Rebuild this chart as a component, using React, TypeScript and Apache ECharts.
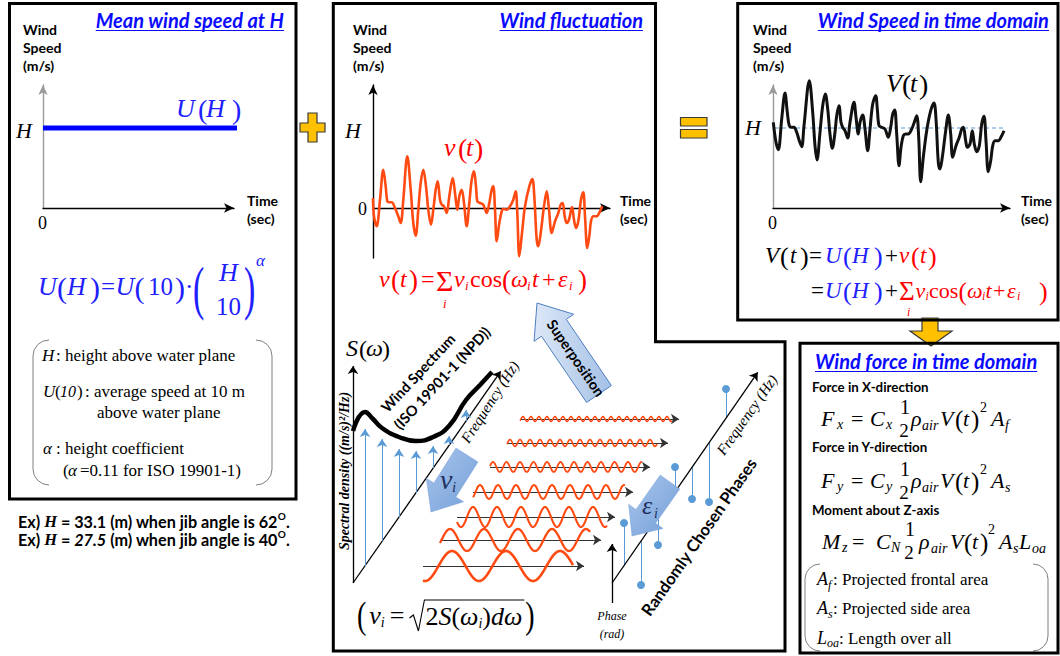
import React, { useEffect, useRef } from 'react';
import * as echarts from 'echarts';

const SERIF = '"Liberation Serif", serif';
const SANS = 'Lato, "Open Sans", sans-serif';
const BLUE = '#0a0aff';
const FBLUE = '#2020ff';
const RED = '#ff0000';
const WAVE = '#ff4a12';
const K = '#000000';
const LBLUE = '#5b9bd5';

// ---------- Box 1: mean wind speed U(H) ----------
const meanTime = [0, 19.6];
const meanSpeed = [8, 8];
const levelH = 8;

// ---------- Box 2: fluctuation v(t) ----------
const flucTime = [
  0, 0.1, 0.37, 0.7, 1.03, 1.27, 1.43, 1.63, 1.87, 2.2,
  2.53, 2.77, 3.03, 3.43, 3.77, 4.03, 4.27, 4.53, 4.77, 5.03,
  5.3, 5.53, 5.8, 6.03, 6.27, 6.47, 6.7, 6.87, 7.1, 7.37,
  7.63, 7.97, 8.2, 8.43, 8.63, 8.87, 9.1, 9.37, 9.63, 9.87,
  10.1, 10.3, 10.43, 10.7, 11.03, 11.37, 11.63, 11.87, 12.03, 12.2,
  12.37, 12.63, 12.87, 13.03, 13.37, 13.7, 14.03, 14.27, 14.43, 14.63,
  14.9, 15.2, 15.63, 15.93, 16.13, 16.37, 16.53, 16.77, 17.1, 17.37,
  17.6, 17.87, 18.2, 18.53, 18.77, 18.97, 19.17, 19.37, 19.6, 19.9,
  20.1, 20.3, 20.53, 20.8, 21.03, 21.2, 21.43, 21.63, 21.8, 22.03,
  22.37, 22.7, 22.93,
];
const flucSpeed = [
  1.0, -0.83, -1.83, 0.83, 3.83, 2.17, 0.67, 0.57, 0.57, 0,
  -0.83, -1.5, 0.83, 5.17, 1.83, -1.5, -2.77, -0.17, 2.5, 3.83,
  2.17, -0.17, -1.67, -0.17, 1.83, 2.67, 0.83, 0.33, 0.17, -0.5,
  1.17, 3.0, 1.5, -0.17, 1.17, 1.83, 0.5, -1.83, 0.5, 2.83,
  3.67, 2.17, 0.67, 0.5, 0.33, -0.5, 0.5, 1.83, 2.17, -0.17,
  -3.33, -1.5, -0.33, -0.1, -0.17, 0.17, 0.83, 1.67, -0.5, -4.83,
  -2.5, 0.17, 2.17, 2.9, 1.17, -3.17, -3.83, -2.5, 0.17, 1.67,
  -0.17, -2.5, -1.33, -0.5, 0.33, 0.5, -0.83, -1.5, -1.17, 0.1,
  -1.17, -2.0, -1.33, 0.83, 1.57, -0.83, -4.0, -2.83, -1.33, -0.83,
  -0.83, -0.33, 0.17,
];

// ---------- Box 3: total wind speed V(t) ----------
const totalTime = [
  0.03, 0.3, 0.53, 0.87, 1.2, 1.43, 1.63, 1.87, 2.1, 2.37,
  2.63, 2.87, 3.1, 3.63, 3.97, 4.2, 4.4, 4.7, 4.97, 5.23,
  5.47, 5.7, 5.93, 6.2, 6.37, 6.6, 6.8, 6.97, 7.2, 7.47,
  7.7, 8.1, 8.3, 8.53, 8.7, 8.97, 9.2, 9.47, 9.7, 9.97,
  10.27, 10.43, 10.6, 10.87, 11.2, 11.53, 11.77, 11.97, 12.17, 12.37,
  12.6, 12.8, 13.03, 13.27, 13.53, 13.87, 14.13, 14.37, 14.57, 14.77,
  15.03, 15.37, 15.77, 16.1, 16.3, 16.53, 16.7, 16.93, 17.27, 17.53,
  17.77, 17.97, 18.3, 18.63, 18.87, 19.03, 19.27, 19.43, 19.7, 19.93,
  20.13, 20.37, 20.63, 20.87, 21.1, 21.3, 21.53, 21.77, 21.97, 22.2,
  22.53, 22.87, 23.1,
];
const totalSpeed = [
  8.57, 6.57, 5.83, 8.9, 11.5, 9.57, 8.23, 8.07, 8.07, 7.57,
  6.73, 6.13, 8.23, 12.73, 9.57, 6.23, 4.8, 7.57, 10.23, 11.4,
  9.9, 7.4, 5.97, 7.57, 9.23, 10.23, 8.57, 8.07, 7.73, 7.0,
  8.57, 10.57, 9.07, 7.4, 8.57, 9.3, 7.9, 5.73, 7.9, 10.4,
  11.23, 9.9, 8.23, 8.07, 7.9, 7.07, 8.07, 9.4, 9.8, 7.4,
  4.23, 6.07, 7.23, 7.4, 7.4, 7.9, 8.57, 9.23, 7.07, 2.63,
  5.07, 7.73, 9.73, 10.5, 8.9, 4.57, 3.9, 5.07, 7.73, 9.3,
  7.4, 5.07, 6.23, 7.07, 7.9, 8.07, 6.73, 6.07, 6.4, 7.73,
  6.4, 5.63, 6.23, 8.4, 9.17, 6.73, 3.63, 4.73, 6.23, 6.73,
  6.73, 7.23, 7.73,
];
const dashedH = [0.2, 23.2];

// ---------- Lower schematic (frequency u / amplitude w frame) ----------
const spectrumFreq = [0, 12, 20, 29, 46, 63, 80, 96, 113, 127, 139];
const spectrumDensity = [152, 171, 164, 155, 146, 142, 146, 157, 183, 198, 211];
const compFreq = [12, 29, 46, 63, 80, 96, 113];
const compBase = [17, 42, 66, 90, 115, 138, 162];
const compTop = [158, 148, 138, 136, 141, 151, 177];
const waveStart = [70, 87, 104, 120, 137, 154, 167];
const waveEnd = [220, 237, 254, 272, 289, 304, 319];
const waveAxisEnd = [235, 252, 266, 284, 301, 319, 330];
const waveLevel = [17, 43, 66, 91, 116, 140, 164];
const waveAmp = [15, 11, 10, 7, 5, 3.5, 2.5];
const wavePeriod = [54, 34, 24, 18, 13.5, 10, 8];
const wavePeak = [99, 97, 120, 127, 140, 157, 170];
const phaseFreq = [271, 288, 305, 322, 339, 356, 373];
const phaseValue = [60, -2, 38, 116, 84, 81, 194];
const phaseBase = [17, 42, 67, 91, 116, 140, 165];
const frameAxes = [
  [[0, 0], [0, 221]],
  [[0, 0], [150, 215]],
  [[259, 0], [407, 214]],
  [[259, -20], [259, 43]],
];
const waveLineWidths = [2.6, 2.3, 2.1, 2, 1.8, 1.6, 1.5];

// ---------- helpers ----------
const cv = document.createElement('canvas').getContext('2d') as CanvasRenderingContext2D;
function tw(font: string, t: string) {
  cv.font = font;
  return cv.measureText(t).width;
}
const I = (s: number) => `italic ${s}px ${SERIF}`;
const R = (s: number) => `${s}px ${SERIF}`;
const BIS = (s: number) => `italic bold ${s}px ${SERIF}`;
const B = (s: number) => `bold ${s}px ${SANS}`;
const BI = (s: number) => `italic bold ${s}px ${SANS}`;

function T(x: number, y: number, text: string, font: string, fill = K, o: any = {}) {
  const align = o.align || 'left';
  return {
    type: 'text',
    x,
    y,
    rotation: o.rot || 0,
    scaleY: o.sy || 1,
    scaleX: o.sx || 1,
    z: 20,
    style: {
      text,
      font,
      fill,
      align,
      verticalAlign: 'middle',
      textAlign: align,
      textVerticalAlign: 'middle',
    },
  };
}
function F(list: any[], fill: string) {
  return list.map((p) => T(p[0], p[1], p[2], p[3], p[4] || fill, p[5] || {}));
}
function chain(x: number, y: number, parts: any[], out: any[]) {
  let cx = x;
  for (const p of parts) {
    cx += p.dx || 0;
    if (p.t) {
      out.push(T(cx, y + (p.dy || 0), p.t, p.f, p.c || K, { sy: p.sy }));
      cx += tw(p.f, p.t);
    }
  }
  return cx;
}
function title(x: number, y: number, text: string, size: number, right: boolean) {
  const f = BI(size);
  const w = tw(f, text);
  const x0 = right ? x - w : x;
  return [
    T(x0, y, text, f, BLUE),
    { type: 'line', z: 20, shape: { x1: x0, y1: y + 10.5, x2: x0 + w, y2: y + 10.5 }, style: { stroke: BLUE, lineWidth: 1 } },
  ];
}
function blockArrow(tx: number, ty: number, px: number, py: number, bw: number, hw: number, hl: number) {
  const dx = px - tx, dy = py - ty, L = Math.hypot(dx, dy);
  const ux = dx / L, uy = dy / L, nx = -uy, ny = ux;
  const bx = px - ux * hl, by = py - uy * hl;
  return [
    [tx + nx * bw, ty + ny * bw], [bx + nx * bw, by + ny * bw], [bx + nx * hw, by + ny * hw], [px, py],
    [bx - nx * hw, by - ny * hw], [bx - nx * bw, by - ny * bw], [tx - nx * bw, ty - ny * bw],
  ];
}
function bracket(x: number, y: number, w: number, h: number, r: number) {
  return [
    { type: 'rect', z: 5, shape: { x, y, width: w, height: h, r }, style: { fill: 'none', stroke: '#808080', lineWidth: 1 } },
    { type: 'rect', z: 6, shape: { x: x + r, y: y - 2, width: w - 2 * r, height: 4 }, style: { fill: '#fff' } },
    { type: 'rect', z: 6, shape: { x: x + r, y: y + h - 2, width: w - 2 * r, height: 4 }, style: { fill: '#fff' } },
  ];
}
function shorten(p0: number[], p1: number[], d: number) {
  const dx = p1[0] - p0[0], dy = p1[1] - p0[1], L = Math.hypot(dx, dy);
  return [p0, [p1[0] - (dx / L) * d, p1[1] - (dy / L) * d]];
}
function axisLabelBlock(x: number) {
  return [T(x, 29, 'Wind', B(14)), T(x, 47, 'Speed', B(14)), T(x, 65, '(m/s)', B(14))];
}
function timeBlock(x: number) {
  return [T(x, 200, 'Time', B(14)), T(x, 218, '(sec)', B(14))];
}

function buildGraphic() {
  const g: any[] = [];
  const gold = { fill: '#ffc000', stroke: '#3a3a3a', lineWidth: 1.2 };
  // boxes
  g.push({ type: 'rect', z: 7, shape: { x: 9.5, y: 3.5, width: 286.5, height: 495.5 }, style: { fill: 'none', stroke: K, lineWidth: 3 } });
  g.push({ type: 'polygon', z: 7, shape: { points: [[333.3, 3.5], [655.5, 3.5], [655.5, 341.7], [785, 341.7], [785, 651], [333.3, 651]] }, style: { fill: 'none', stroke: K, lineWidth: 3 } });
  g.push({ type: 'rect', z: 7, shape: { x: 737.7, y: 3.5, width: 320.3, height: 316.5 }, style: { fill: 'none', stroke: K, lineWidth: 3 } });
  g.push({ type: 'polygon', z: 4, shape: { points: [[922, 318], [938, 318], [938, 331], [952, 331], [931, 346], [910, 331], [922, 331]] }, style: gold });
  g.push({ type: 'rect', z: 7, shape: { x: 800, y: 343.3, width: 258, height: 309.7 }, style: { fill: 'none', stroke: K, lineWidth: 3 } });

  // plus & equals
  const cx = 312.5, cy = 127.5, hx = 12.5, hy = 14.5, t = 4.5;
  g.push({ type: 'polygon', z: 8, shape: { points: [[cx - t, cy - hy], [cx + t, cy - hy], [cx + t, cy - t], [cx + hx, cy - t], [cx + hx, cy + t], [cx + t, cy + t], [cx + t, cy + hy], [cx - t, cy + hy], [cx - t, cy + t], [cx - hx, cy + t], [cx - hx, cy - t], [cx - t, cy - t]] }, style: gold });
  g.push({ type: 'rect', z: 8, shape: { x: 680.5, y: 117.5, width: 26.5, height: 8.5 }, style: gold });
  g.push({ type: 'rect', z: 8, shape: { x: 680.5, y: 129.5, width: 26.5, height: 8.5 }, style: gold });

  // titles
  g.push(...title(284, 20, 'Mean wind speed at H', 20, true));
  g.push(...title(643, 20, 'Wind fluctuation', 20, true));
  g.push(...title(1049, 20, 'Wind Speed in time domain', 20, true));
  g.push(...title(815, 361, 'Wind force in time domain', 20, false));

  // axis labels
  g.push(...axisLabelBlock(23), ...axisLabelBlock(353), ...axisLabelBlock(753));
  g.push(...timeBlock(247), ...timeBlock(620), ...timeBlock(1021));
  g.push(T(16, 130, 'H', I(22)), T(38, 223, '0', R(18)));
  g.push(T(345, 130, 'H', I(22)), T(358, 209, '0', R(18)));
  g.push(T(745, 127, 'H', I(22)), T(768, 223, '0', R(18)));

  // curve labels
  g.push(...F([[176, 108, 'U', I(26)], [198, 109, '(', R(28)], [206, 108, 'H', I(26)], [232, 109, ')', R(28)]], FBLUE));
  g.push(...F([[444, 147, 'v', I(26)], [458, 148, '(', R(28)], [466, 147, 't', I(26)], [474, 148, ')', R(28)]], RED));
  g.push(...F([[886, 83, 'V', I(26)], [902, 84, '(', R(28)], [910, 83, 't', I(26)], [919, 84, ')', R(28)]], K));

  // box 1 formula
  g.push(...F([
    [38, 286, 'U', I(26)], [57, 287, '(', R(30)], [67, 286, 'H', I(26)], [90, 287, ')', R(30)],
    [101, 286, '=', R(25)], [115.5, 286, 'U', I(26)], [134.5, 287, '(', R(30)], [148, 286, '10', R(25)],
    [175, 287, ')', R(30)], [185, 286, '·', R(25)], [193, 288, '(', R(34), null, { sy: 1.75 }],
    [219, 272, 'H', I(26)], [216, 306, '10', R(25)], [244, 288, ')', R(34), null, { sy: 1.75 }],
    [256, 260, 'α', I(17)],
  ], FBLUE));
  g.push(...bracket(33, 340, 239, 145, 16));
  g.push(...F([
    [42, 355, 'H', I(17)], [56, 355, ': height above water plane', R(17)],
    [43, 391, 'U', I(17)], [55, 391, '(', R(17)], [60, 391, '10', I(16)], [77, 391, ')', R(17)],
    [85, 391, ': average speed at 10 m', R(17)],
    [97, 412, 'above water plane', R(17)],
    [43, 448, 'α', I(17)], [56, 448, ': height coefficient', R(17)],
    [63, 470, '(', R(17)], [68, 470, 'α', I(17)], [80, 470, '=0.11 for ISO 19901-1)', R(17)],
  ], K));
  chain(18, 521, [
    { t: 'Ex) ', f: B(16.2) }, { t: 'H', f: BIS(16.5) }, { t: ' = 33.1 (m) when jib angle is 62', f: B(16.2) },
    { t: 'O', f: B(10), dy: -5 }, { t: '.', f: B(16.2) },
  ], g);
  chain(18, 539, [
    { t: 'Ex) ', f: B(16.2) }, { t: 'H', f: BIS(16.5) }, { t: ' = ', f: B(16.2) }, { t: '27.5', f: BI(16.2) },
    { t: ' (m) when jib angle is 40', f: B(16.2) }, { t: 'O', f: B(10), dy: -5 }, { t: '.', f: B(16.2) },
  ], g);

  // box 2 formula
  g.push(...F([
    [379, 279, 'v', I(24)], [391, 280, '(', R(27)], [400, 279, 't', I(24)], [409, 280, ')', R(27)],
    [421, 279, '=', R(24)], [436, 280, 'Σ', R(30)], [443, 303, 'i', I(13)], [454, 279, 'v', I(24)],
    [465, 285, 'i', I(13)], [470, 279, 'cos', R(24)], [502, 280, '(', R(27)], [511, 279, 'ω', I(24)],
    [527, 285, 'i', I(13)], [532, 279, 't', I(24)], [542, 279, '+', R(24)], [558, 279, 'ε', I(24)],
    [569, 285, 'i', I(13)], [578, 280, ')', R(27)],
  ], RED));

  // box 3 formulas
  g.push(...F([
    [765, 255, 'V', I(23), K], [780, 256, '(', R(26), K], [790, 255, 't', I(23), K], [800, 256, ')', R(26), K],
    [809, 255, '=', R(23), K], [825, 255, 'U', I(23), FBLUE], [843, 256, '(', R(26), FBLUE],
    [852, 255, 'H', I(23), FBLUE], [874, 256, ')', R(26), FBLUE], [885, 255, '+', R(23), K],
    [899, 255, 'v', I(23), RED], [911, 256, '(', R(26), RED], [920, 255, 't', I(23), RED], [928, 256, ')', R(26), RED],
    [811, 290, '=', R(23), K], [825, 290, 'U', I(23), FBLUE], [843, 291, '(', R(26), FBLUE],
    [852, 290, 'H', I(23), FBLUE], [874, 291, ')', R(26), FBLUE], [885, 290, '+', R(23), K],
    [899, 291, 'Σ', R(27), RED], [907, 312, 'i', I(12), RED], [915.5, 290, 'v', I(22), RED],
    [925.5, 296, 'i', I(12), RED], [929, 290, 'cos', R(22), RED], [958.5, 291, '(', R(25), RED],
    [967, 290, 'ω', I(22), RED], [982, 296, 'i', I(12), RED], [985.5, 290, 't', I(22), RED],
    [993, 290, '+', R(22), RED], [1007, 290, 'ε', I(22), RED], [1017, 296, 'i', I(12), RED],
    [1039, 291, ')', R(26), RED],
  ], K));

  // box 4
  g.push(T(812, 387, 'Force in X-direction', B(13.3)), T(812, 447, 'Force in Y-direction', B(13.3)), T(812, 510, 'Moment about Z-axis', B(13.3)));
  const force = (y: number, sub: string, sub2: string) => [
    [821, y, 'F', I(22)], [837, y + 6, sub, I(14)], [851, y, '=', R(22)], [870, y, 'C', I(22)],
    [886, y + 6, sub, I(14)], [905, y - 11, '1', R(20), null, { align: 'center' }], [904, y + 12, '2', R(19), null, { align: 'center' }],
    [911, y, 'ρ', I(22)], [922, y + 7, 'air', I(14)], [940, y, 'V', I(22)], [955, y + 1, '(', R(25)],
    [963, y, 't', I(22)], [971, y + 1, ')', R(25)], [980, y - 11, '2', R(14)], [991, y, 'A', I(22)],
    [1005, y + 7, sub2, I(14)],
  ];
  g.push(...F(force(418, 'x', 'f'), K));
  g.push(...F(force(480, 'y', 's'), K));
  g.push(...F([
    [822, 541, 'M', I(22)], [842, 547, 'z', I(14)], [852, 541, '=', R(22)], [876, 541, 'C', I(22)],
    [891, 547, 'N', I(14)], [910, 529, '1', R(20), null, { align: 'center' }], [909, 552, '2', R(19), null, { align: 'center' }],
    [919, 541, 'ρ', I(22)], [931, 548, 'air', I(14)], [950, 541, 'V', I(22)], [964, 542, '(', R(25)],
    [972, 541, 't', I(22)], [980, 542, ')', R(25)], [988, 529, '2', R(14)], [999, 541, 'A', I(22)],
    [1013, 548, 's', I(14)], [1019, 541, 'L', I(22)], [1032, 548, 'oa', I(14)],
  ], K));
  g.push(...bracket(805, 564, 243, 87, 15));
  g.push(...F([
    [817, 579, 'A', I(18)], [828, 585, 'f', I(12)], [833, 579, ': Projected frontal area', R(17)],
    [817, 608, 'A', I(18)], [828, 614, 's', I(12)], [833, 608, ': Projected side area', R(17)],
    [817, 638, 'L', I(18)], [827, 643, 'oa', I(12)], [839, 638, ': Length over all', R(17)],
  ], K));

  // lower schematic decorations
  const vArrow = blockArrow(467, 455, 431, 512, 13, 22, 26);
  const eArrow = blockArrow(670, 482, 632, 536, 12, 21, 24);
  const sArrow = blockArrow(599, 394, 537, 303, 15, 24, 30);
  const grad = () => new echarts.graphic.LinearGradient(0, 0, 1, 1, [{ offset: 0, color: '#a9c5ec' }, { offset: 1, color: '#739fd8' }]);
  g.push({ type: 'polygon', z: 8, shape: { points: vArrow }, style: { fill: grad(), stroke: '#7aa3d9', lineWidth: 0.5 } });
  g.push({ type: 'polygon', z: 8, shape: { points: eArrow }, style: { fill: grad(), stroke: '#7aa3d9', lineWidth: 0.5 } });
  g.push({ type: 'polygon', z: 8, shape: { points: sArrow }, style: { fill: new echarts.graphic.LinearGradient(0, 0, 1, 0, [{ offset: 0, color: '#dce8f7' }, { offset: 1, color: '#a4c0e6' }]), stroke: '#4f7fc0', lineWidth: 1 } });
  g.push(T(576, 358, 'Superposition', B(14.5), K, { align: 'center', rot: -0.967 }));
  g.push(T(440, 479, 'v', I(28), '#1f3060'), T(452, 487, 'i', I(15), '#1f3060'));
  g.push(T(642, 505, 'ε', I(26), '#1f3060'), T(654, 513, 'i', I(14), '#1f3060'));

  g.push(...F([[346, 348, 'S', I(24)], [359, 349, '(', R(24)], [366, 348, 'ω', I(24)], [382, 349, ')', R(24)]], K));
  g.push(T(344, 471, 'Spectral density ((m/s)²/Hz)', BIS(14), K, { align: 'center', rot: Math.PI / 2 }));
  g.push(T(418, 373, 'Wind Spectrum', B(14.5), K, { align: 'center', rot: 0.82 }));
  g.push(T(442, 378, '(ISO 19901-1 (NPD))', B(14.5), K, { align: 'center', rot: 0.82 }));
  g.push(T(490, 402, 'Frequency (Hz)', I(15), K, { align: 'center', rot: 1.0 }));
  g.push(T(747, 415, 'Frequency (Hz)', I(15), K, { align: 'center', rot: 0.96 }));
  g.push(T(699, 537, 'Randomly Chosen Phases', B(16.5), K, { align: 'center', rot: 0.96 }));
  g.push(T(612, 616, 'Phase', I(12), K, { align: 'center' }), T(612, 634, '(rad)', I(12), K, { align: 'center' }));

  // (v_i = sqrt(2 S(w_i) dw))
  const fy = 615;
  const x = chain(357, fy, [
    { t: '(', f: R(28), sy: 1.35 }, { dx: 3, t: 'v', f: I(26) }, { t: 'i', f: I(14), dy: 7 }, { dx: 5, t: '=', f: R(26) },
  ], g);
  const sx = x + 5;
  const ex = chain(sx + 16, fy + 1, [
    { t: '2', f: R(26) }, { t: 'S', f: I(26) }, { t: '(', f: R(26) }, { t: 'ω', f: I(26) }, { t: 'i', f: I(14), dy: 7 },
    { t: ')', f: R(26) }, { t: 'd', f: I(26) }, { t: 'ω', f: I(26) },
  ], g);
  g.push({ type: 'polyline', z: 20, shape: { points: [[sx, fy + 3], [sx + 4, fy], [sx + 9, fy + 16], [sx + 15, fy - 15], [ex + 2, fy - 15]] }, style: { stroke: K, lineWidth: 1.1, fill: 'none' } });
  chain(ex + 3, fy, [{ t: ')', f: R(28), sy: 1.35 }], g);
  return g;
}

function buildOption() {
  const hidden = { show: false };
  const axisBase = (gridIndex: number, min: number, max: number, color: string) => ({
    gridIndex,
    type: 'value',
    min,
    max,
    axisLine: { show: true, onZero: true, lineStyle: { color, width: 1.4 }, symbol: ['none', 'arrow'], symbolSize: [7, 10] },
    axisTick: hidden,
    axisLabel: hidden,
    splitLine: hidden,
  });
  const arrowSeries = (segs: number[][][], color: string, width: number) => ({
    type: 'lines',
    coordinateSystem: 'cartesian2d',
    xAxisIndex: 3,
    yAxisIndex: 3,
    symbol: ['none', 'arrow'],
    symbolSize: 8,
    lineStyle: { color, width, opacity: 1, curveness: 0 },
    data: segs.map((s) => ({ coords: shorten(s[0], s[1], 4) })),
    z: 3,
  });
  return {
    animation: false,
    backgroundColor: '#fff',
    grid: [
      { left: 43, top: 85, width: 191, height: 123 },
      { left: 373, top: 85, width: 237, height: 173 },
      { left: 773, top: 85, width: 237, height: 123 },
      { left: 333, top: 342, width: 452, height: 310 },
    ],
    xAxis: [
      axisBase(0, 0, 19.1, '#000'),
      axisBase(1, 0, 23.7, '#000'),
      axisBase(2, 0, 23.7, '#000'),
      { gridIndex: 3, type: 'value', min: -20, max: 432, show: false },
    ],
    yAxis: [
      axisBase(0, 0, 12.3, '#9a9a9a'),
      axisBase(1, -5, 12.3, '#000'),
      axisBase(2, 0, 12.3, '#9a9a9a'),
      { gridIndex: 3, type: 'value', min: -69, max: 241, show: false },
    ],
    graphic: { elements: buildGraphic() },
    series: [
      {
        type: 'line', xAxisIndex: 0, yAxisIndex: 0, clip: false, showSymbol: false,
        data: meanTime.map((t, i) => [t, meanSpeed[i]]),
        lineStyle: { color: '#0000ff', width: 5 },
      },
      {
        type: 'line', xAxisIndex: 1, yAxisIndex: 1, clip: false, showSymbol: false, smooth: 0.35,
        data: flucTime.map((t, i) => [t, flucSpeed[i]]),
        lineStyle: { color: WAVE, width: 2.6 },
      },
      {
        type: 'line', xAxisIndex: 2, yAxisIndex: 2, clip: false, showSymbol: false,
        data: dashedH.map((t) => [t, levelH]),
        lineStyle: { color: LBLUE, width: 1, type: [4, 3] },
      },
      {
        type: 'line', xAxisIndex: 2, yAxisIndex: 2, clip: false, showSymbol: false, smooth: 0.35,
        data: totalTime.map((t, i) => [t, totalSpeed[i]]),
        lineStyle: { color: '#111', width: 3 },
      },
      {
        type: 'line', xAxisIndex: 3, yAxisIndex: 3, clip: false, showSymbol: false, smooth: 0.5,
        data: spectrumFreq.map((f, i) => [f, spectrumDensity[i]]),
        lineStyle: { color: '#000', width: 4.5 },
        z: 4,
      },
      arrowSeries(frameAxes as number[][][], '#000', 1.3),
      arrowSeries(compFreq.map((f, i) => [[f, compBase[i]], [f, compTop[i]]]), LBLUE, 1),
      arrowSeries(waveStart.map((s, i) => [[s, waveLevel[i]], [waveAxisEnd[i], waveLevel[i]]]), '#333', 1),
      {
        type: 'custom', xAxisIndex: 3, yAxisIndex: 3, z: 4,
        data: waveStart.map((s, i) => [s, waveEnd[i], waveLevel[i], waveAmp[i], wavePeriod[i], wavePeak[i]]),
        renderItem: (params: any, api: any) => {
          const u0 = api.value(0), u1 = api.value(1), lvl = api.value(2), amp = api.value(3), per = api.value(4), pk = api.value(5);
          const pts: number[][] = [];
          for (let u = u0; u <= u1 + 1e-6; u += 0.5) {
            pts.push(api.coord([u, lvl + amp * Math.cos((2 * Math.PI * (u - pk)) / per)]));
          }
          return { type: 'polyline', shape: { points: pts }, style: { stroke: WAVE, lineWidth: waveLineWidths[params.dataIndex], fill: 'none' } };
        },
      },
      {
        type: 'lines', coordinateSystem: 'cartesian2d', xAxisIndex: 3, yAxisIndex: 3, symbol: 'none',
        lineStyle: { color: LBLUE, width: 1, opacity: 1 },
        data: phaseFreq.map((f, i) => ({ coords: [[f, phaseBase[i]], [f, phaseValue[i]]] })),
      },
      {
        type: 'scatter', xAxisIndex: 3, yAxisIndex: 3, symbolSize: 8,
        itemStyle: { color: LBLUE, opacity: 1 },
        data: phaseFreq.map((f, i) => [f, phaseValue[i]]),
      },
    ],
  };
}

export default function App() {
  const ref = useRef<HTMLDivElement>(null);
  useEffect(() => {
    document.body.style.margin = '0';
    const chart = echarts.init(ref.current as HTMLDivElement, undefined, { renderer: 'svg' });
    chart.setOption(buildOption() as any);
    return () => chart.dispose();
  }, []);
  return <div ref={ref} style={{ width: 1060, height: 656, background: '#fff' }} />;
}
